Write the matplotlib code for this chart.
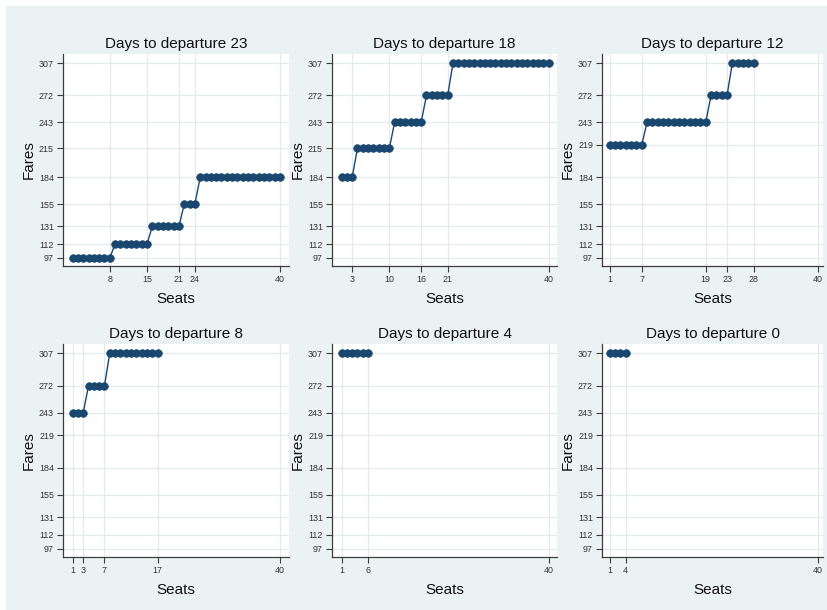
import matplotlib
matplotlib.use("Agg")
import matplotlib.pyplot as plt
from matplotlib.patches import Rectangle

plt.rcParams['font.family'] = ['Liberation Sans', 'DejaVu Sans']

# Fare charged for each seat sold, one series per days-to-departure snapshot
days_to_departure = [23, 18, 12, 8, 4, 0]

fares_dtd23 = [97] * 8 + [112] * 7 + [131] * 6 + [155] * 3 + [184] * 16
fares_dtd18 = [184] * 3 + [215] * 7 + [243] * 6 + [272] * 5 + [307] * 19
fares_dtd12 = [219] * 7 + [243] * 12 + [272] * 4 + [307] * 5
fares_dtd8 = [243] * 3 + [272] * 4 + [307] * 10
fares_dtd4 = [307] * 6
fares_dtd0 = [307] * 4

series = [fares_dtd23, fares_dtd18, fares_dtd12, fares_dtd8, fares_dtd4, fares_dtd0]

xticks_list = [
    [8, 15, 21, 24, 40],
    [3, 10, 16, 21, 40],
    [1, 7, 19, 23, 28, 40],
    [1, 3, 7, 17, 40],
    [1, 6, 40],
    [1, 4, 40],
]
yticks_a = [97, 112, 131, 155, 184, 215, 243, 272, 307]
yticks_b = [97, 112, 131, 155, 184, 219, 243, 272, 307]
yticks_list = [yticks_a, yticks_a, yticks_b, yticks_b, yticks_b, yticks_b]

# Layout (pixels on an 827x610 canvas)
W, H = 827, 610
col_px = [(63, 289), (332, 557), (602, 823)]
row_px = [(54, 266), (344, 557)]
col_xlim = [(-0.8, 41.7), (-0.8, 41.6), (-0.45, 41.0)]

BG = '#EAF2F3'
GRID = '#E4EAEB'
NAVY = '#1A476F'
AXC = '#3C3C3C'

fig = plt.figure(figsize=(W / 100, H / 100), dpi=100, facecolor='white')
fig.patches.append(Rectangle((6 / W, 0), 1 - 6 / W, 1 - 6 / H, transform=fig.transFigure,
                             facecolor=BG, edgecolor='none', zorder=-10))

for i, fares in enumerate(series):
    r, c = divmod(i, 3)
    x0, x1 = col_px[c]
    y0, y1 = row_px[r]
    ax = fig.add_axes([x0 / W, 1 - y1 / H, (x1 - x0) / W, (y1 - y0) / H])
    ax.set_facecolor('white')
    seats = list(range(1, len(fares) + 1))
    ax.plot(seats, fares, color=NAVY, lw=1.0, marker='o', ms=5.5,
            mfc=NAVY, mec=NAVY, mew=0.5, zorder=3, clip_on=False)
    ax.set_xlim(*col_xlim[c])
    ax.set_ylim(88.3, 316.7)
    ax.set_xticks(xticks_list[i])
    ax.set_yticks(yticks_list[i])
    ax.grid(True, color=GRID, lw=0.9, zorder=0)
    ax.set_axisbelow(True)
    for s in ['top', 'right']:
        ax.spines[s].set_visible(False)
    for s in ['left', 'bottom']:
        ax.spines[s].set_color(AXC)
        ax.spines[s].set_linewidth(0.9)
    ax.tick_params(axis='both', direction='out', length=4, width=0.8, color=AXC,
                   labelsize=6.4, labelcolor='#333333', pad=2.5)
    ax.set_title(f'Days to departure {days_to_departure[i]}', fontsize=11,
                 pad=4, color='#111111')
    ax.set_ylabel('Fares', fontsize=11, labelpad=2, color='#111111')
    ax.set_xlabel('Seats', fontsize=11, labelpad=6, color='#111111')

fig.savefig('out.png', dpi=100, facecolor=fig.get_facecolor())
